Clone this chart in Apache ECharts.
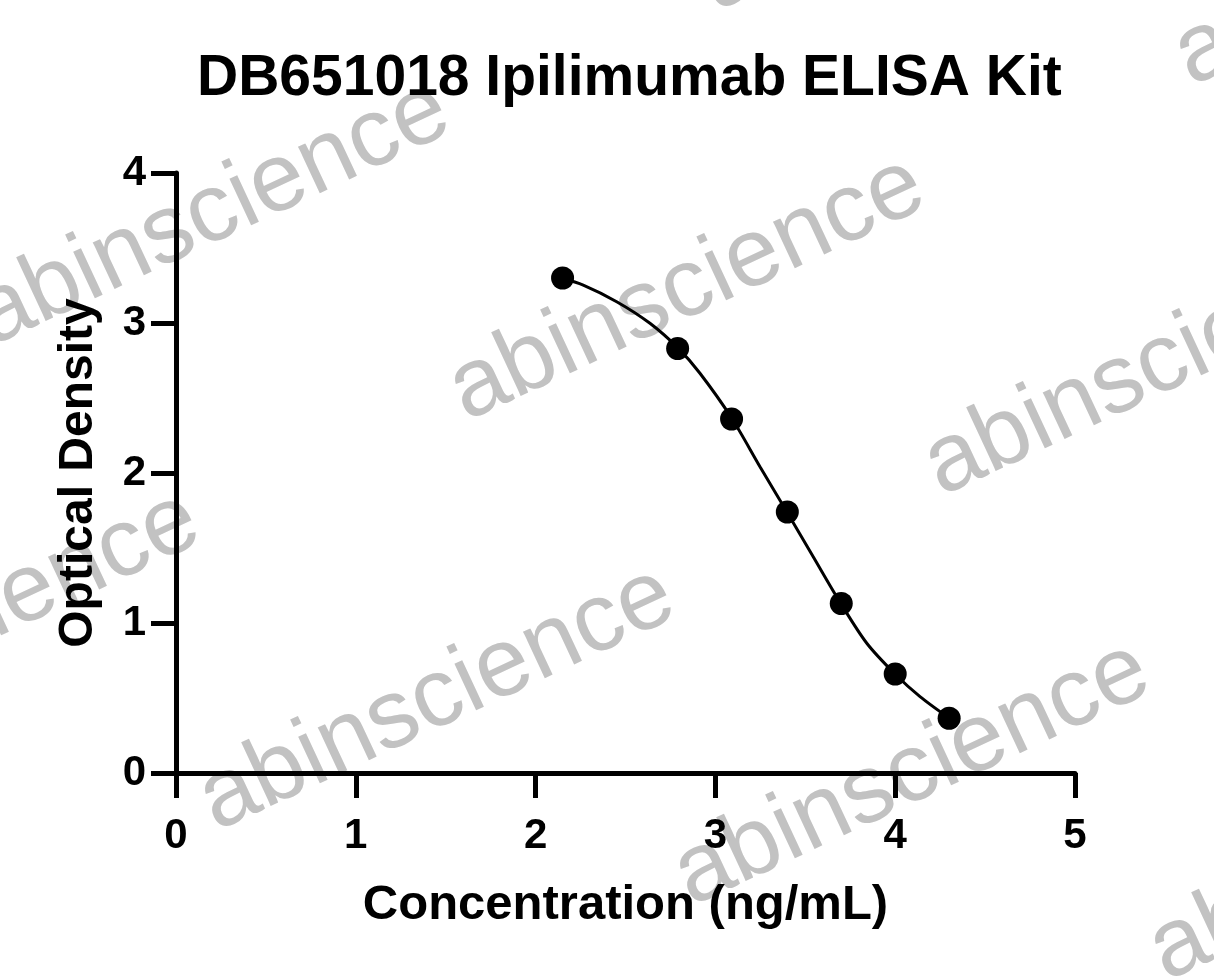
<!DOCTYPE html>
<html>
<head>
<meta charset="utf-8">
<title>DB651018 Ipilimumab ELISA Kit</title>
<script src="https://cdn.jsdelivr.net/npm/echarts@6/dist/echarts.min.js"></script>
<style>
  html, body { margin: 0; padding: 0; background: #fff; }
  #chart { width: 1214px; height: 978px; }
</style>
</head>
<body>
<div id="chart"></div>
<script>
// measured standards (x = log concentration, y = OD)
const concLog = [2.15, 2.79, 3.09, 3.40, 3.70, 4.00, 4.30];
const odValues = [3.30, 2.83, 2.36, 1.74, 1.13, 0.66, 0.365];
// fitted curve
const fitX = [2.145, 2.265, 2.451, 2.636, 2.794, 2.914, 3.091, 3.248, 3.397, 3.544, 3.697, 3.842, 3.999, 4.138, 4.301];
const fitY = [3.298, 3.253, 3.142, 2.998, 2.831, 2.665, 2.365, 2.042, 1.742, 1.442, 1.131, 0.865, 0.660, 0.509, 0.365];
const xTicks = [0, 1, 2, 3, 4, 5];
const yTicks = [0, 1, 2, 3, 4];

const FONT = '"Liberation Sans", Arial, Helvetica, sans-serif';
const points = concLog.map((x, i) => [x, odValues[i]]);
const fitLine = fitX.map((x, i) => [x, fitY[i]]);

// watermark "abinscience" tiled on a slanted grid
const watermarks = [];
for (let i = -1; i <= 2; i++) {
  for (let j = -1; j <= 2; j++) {
    watermarks.push({
      type: 'text',
      x: 687 + 475 * i - 250 * j,
      y: 289 + 75 * i + 410 * j,
      rotation: 25 * Math.PI / 180,
      z: -10,
      silent: true,
      style: {
        text: 'abinscience',
        font: '97px ' + FONT,
        fill: '#c2c2c2',
        align: 'center',
        verticalAlign: 'middle'
      }
    });
  }
}

const myChart = echarts.init(document.getElementById('chart'));
const option = {
  backgroundColor: '#fff',
  animation: false,
  title: {
    text: 'DB651018 Ipilimumab ELISA Kit',
    left: 192,
    top: 46,
    textStyle: { fontFamily: FONT, fontWeight: 'bold', fontSize: 57, color: '#000' }
  },
  graphic: { elements: watermarks },
  grid: {
    left: 176,
    right: 139,
    top: 173,
    bottom: 205,
    outerBoundsMode: 'none'
  },
  xAxis: {
    type: 'value',
    min: 0,
    max: 5,
    interval: 1,
    name: 'Concentration (ng/mL)',
    nameLocation: 'middle',
    nameGap: 108,
    nameTextStyle: { fontFamily: FONT, fontWeight: 'bold', fontSize: 49, color: '#000' },
    axisLine: { onZero: false, lineStyle: { color: '#000', width: 5 } },
    axisTick: { show: true, inside: false, length: 25, lineStyle: { color: '#000', width: 5 } },
    axisLabel: {
      margin: 42,
      fontFamily: FONT, fontWeight: 'bold', fontSize: 42, color: '#000',
      formatter: v => xTicks.includes(v) ? String(v) : ''
    },
    splitLine: { show: false }
  },
  yAxis: {
    type: 'value',
    min: 0,
    max: 4,
    interval: 1,
    name: 'Optical Density',
    nameLocation: 'middle',
    nameGap: 73,
    nameRotate: 90,
    nameTextStyle: { fontFamily: FONT, fontWeight: 'bold', fontSize: 48, color: '#000' },
    axisLine: { onZero: false, lineStyle: { color: '#000', width: 5 } },
    axisTick: { show: true, inside: false, length: 25, lineStyle: { color: '#000', width: 5 } },
    axisLabel: {
      margin: 30,
      fontFamily: FONT, fontWeight: 'bold', fontSize: 42, color: '#000',
      formatter: v => yTicks.includes(v) ? String(v) : ''
    },
    splitLine: { show: false }
  },
  series: [
    {
      name: 'fit',
      type: 'line',
      data: fitLine,
      smooth: 0.3,
      showSymbol: false,
      symbol: 'none',
      lineStyle: { color: '#000', width: 3 },
      z: 3
    },
    {
      name: 'OD',
      type: 'scatter',
      data: points,
      symbol: 'circle',
      symbolSize: 23,
      itemStyle: { color: '#000', opacity: 1 },
      z: 4
    }
  ]
};
myChart.setOption(option);
</script>
</body>
</html>
